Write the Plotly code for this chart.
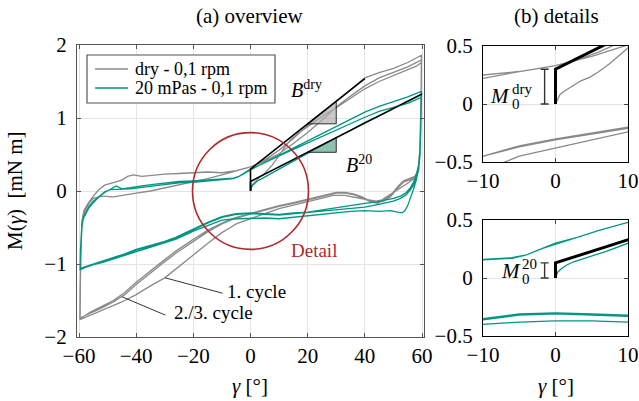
import plotly.graph_objects as go

# ---------------- data ----------------
# dry - 0,1 rpm : branches in the order they were measured
DRY_INIT_G = [0, 0.3, 0.6, 1.2, 2.4, 3.5, 4.7, 6, 7.5, 9, 10.5, 12, 14, 17, 20, 25, 30, 35, 40, 45, 50, 55, 58, 59.5]
DRY_INIT_M = [0, 0.04, 0.08, 0.11, 0.16, 0.2, 0.23, 0.28, 0.35, 0.43, 0.52, 0.6, 0.7, 0.8, 0.88, 1.02, 1.14, 1.27, 1.4, 1.5, 1.58, 1.66, 1.71, 1.75]
DRY_L1_G = [59.8, 59.7, 59.5, 59.2, 58.7, 57.5, 55.5, 53, 50.5, 48, 46, 44, 41, 37, 33, 29, 25, 20, 15, 10, 5, 0, -5, -7, -10, -15, -20, -25, -30, -35, -40, -45, -50, -55, -59.5]
DRY_L1_M = [1.75, 1.3, 0.9, 0.55, 0.3, 0.18, 0.12, 0.06, 0.0, -0.07, -0.12, -0.14, -0.12, -0.09, -0.06, -0.06, -0.1, -0.15, -0.2, -0.24, -0.31, -0.38, -0.45, -0.5, -0.57, -0.72, -0.88, -1.04, -1.19, -1.3, -1.42, -1.52, -1.6, -1.68, -1.76]
DRY_U2_G = [-59.6, -59.5, -59.3, -59, -58.3, -57, -55, -53, -51, -48, -45, -43, -41, -38, -34, -30, -25, -20, -15, -10, -5, -2, 0, 3, 6, 10, 15, 20, 25, 30, 35, 40, 45, 50, 55, 59.5]
DRY_U2_M = [-1.76, -1.2, -0.7, -0.42, -0.27, -0.18, -0.07, 0.02, 0.08, 0.12, 0.15, 0.2, 0.22, 0.2, 0.22, 0.23, 0.24, 0.25, 0.26, 0.25, 0.28, 0.31, 0.33, 0.38, 0.45, 0.56, 0.72, 0.9, 1.06, 1.22, 1.38, 1.55, 1.62, 1.68, 1.76, 1.86]
DRY_L2_G = [59.8, 59.7, 59.5, 59.2, 58.8, 57.5, 55.5, 53.5, 51.5, 49, 46.5, 44.5, 42, 39, 36, 33, 30, 27, 24, 20, 15, 10, 5, 0, -5, -10, -15, -20, -26, -30, -35, -40, -44, -48, -52, -56, -59.6]
DRY_L2_M = [1.86, 1.4, 0.9, 0.5, 0.3, 0.2, 0.17, 0.14, 0.06, -0.06, -0.13, -0.17, -0.15, -0.09, -0.05, -0.03, -0.03, -0.06, -0.09, -0.12, -0.17, -0.21, -0.26, -0.31, -0.37, -0.45, -0.56, -0.69, -0.85, -0.97, -1.12, -1.28, -1.42, -1.52, -1.6, -1.67, -1.74]
DRY_U3_G = [-59.7, -59.6, -59.4, -59, -58, -56.5, -55, -52, -48, -44, -40, -35, -30, -25, -20, -15, -10, -5, 0, 5, 10, 15, 20, 25, 30, 35, 40, 45, 50, 55, 59.5]
DRY_U3_M = [-1.74, -1.3, -0.8, -0.45, -0.28, -0.17, -0.1, -0.07, -0.08, -0.05, -0.03, 0.0, 0.04, 0.08, 0.12, 0.17, 0.22, 0.28, 0.33, 0.41, 0.51, 0.65, 0.8, 0.97, 1.15, 1.3, 1.44, 1.55, 1.63, 1.7, 1.79]
DRY_L3_G = [59.8, 59.7, 59.5, 59.2, 58.8, 57.5, 55.5, 53.5, 51.5, 49, 46.5, 44.5, 42, 39, 36, 33, 30, 27, 24, 20, 15, 10, 5, 0, -5, -10, -15, -20, -26, -30, -35, -40, -44, -48, -52, -56, -59.6]
DRY_L3_M = [1.79, 1.35, 0.85, 0.48, 0.28, 0.19, 0.15, 0.12, 0.04, -0.08, -0.14, -0.16, -0.14, -0.08, -0.04, -0.02, -0.02, -0.05, -0.08, -0.11, -0.16, -0.2, -0.25, -0.3, -0.36, -0.44, -0.54, -0.66, -0.82, -0.94, -1.09, -1.25, -1.39, -1.5, -1.58, -1.66, -1.75]

# 20 mPas - 0,1 rpm
W_INIT_G = [0, 0.3, 0.8, 1.5, 2.5, 3.5, 5, 7, 10, 15, 20, 25, 30, 35, 40, 45, 50, 55, 59.5]
W_INIT_M = [0, 0.05, 0.08, 0.11, 0.14, 0.16, 0.19, 0.23, 0.3, 0.41, 0.52, 0.62, 0.73, 0.83, 0.94, 1.03, 1.13, 1.22, 1.32]
W_L1_G = [59.8, 59.6, 59.3, 58.8, 58, 57, 56, 55, 54, 53, 51.5, 49, 45, 40, 35, 30, 25, 20, 15, 10, 5, 0, -5, -10, -15, -20, -26, -30, -35, -40, -44, -48, -52, -56, -59.6]
W_L1_M = [1.32, 0.9, 0.5, 0.3, 0.15, 0.02, -0.1, -0.2, -0.27, -0.3, -0.29, -0.27, -0.28, -0.27, -0.28, -0.3, -0.32, -0.34, -0.36, -0.38, -0.37, -0.37, -0.38, -0.4, -0.47, -0.55, -0.66, -0.71, -0.77, -0.83, -0.89, -0.94, -0.98, -1.02, -1.08]
W_U2_G = [-59.6, -59.5, -59.3, -59, -58.5, -57.5, -56.5, -55, -53, -51, -49, -47, -45, -42, -38, -34, -30, -25, -20, -15, -10, -6, -4, -2, 0, 3, 6, 10, 15, 20, 25, 30, 35, 40, 45, 50, 55, 59.5]
W_U2_M = [-1.08, -0.85, -0.65, -0.5, -0.38, -0.3, -0.23, -0.16, -0.08, -0.02, 0.03, 0.07, 0.03, 0.05, 0.07, 0.09, 0.11, 0.13, 0.14, 0.15, 0.16, 0.175, 0.2, 0.25, 0.29, 0.35, 0.41, 0.48, 0.58, 0.68, 0.79, 0.89, 0.99, 1.08, 1.16, 1.22, 1.29, 1.36]
W_L2_G = [59.8, 59.6, 59.3, 58.8, 58, 57, 56, 54.5, 52.5, 50, 47, 44, 40, 35, 30, 25, 20, 15, 10, 5, 0, -5, -10, -15, -20, -26, -30, -35, -40, -44, -48, -52, -56, -59.6]
W_L2_M = [1.36, 0.9, 0.55, 0.35, 0.22, 0.12, 0.05, -0.02, -0.07, -0.1, -0.13, -0.15, -0.17, -0.2, -0.23, -0.26, -0.29, -0.3, -0.32, -0.31, -0.3, -0.31, -0.35, -0.43, -0.52, -0.63, -0.69, -0.75, -0.8, -0.86, -0.91, -0.96, -1.01, -1.06]
W_U3_G = [-59.6, -59.5, -59.3, -59, -58.5, -57.5, -56.5, -55, -53, -51, -49, -46, -42, -38, -34, -30, -25, -20, -15, -10, -6, -4, -2, 0, 3, 6, 10, 15, 20, 25, 30, 35, 40, 45, 50, 55, 59.5]
W_U3_M = [-1.06, -0.82, -0.62, -0.47, -0.36, -0.28, -0.21, -0.14, -0.07, -0.01, 0.02, 0.02, 0.03, 0.05, 0.07, 0.09, 0.11, 0.12, 0.14, 0.16, 0.17, 0.2, 0.25, 0.3, 0.35, 0.41, 0.48, 0.57, 0.66, 0.75, 0.84, 0.93, 1.01, 1.09, 1.15, 1.2, 1.28]
W_L3_G = [59.8, 59.6, 59.3, 58.8, 58, 57, 56, 54.5, 52.5, 50, 47, 44, 40, 35, 30, 25, 20, 15, 10, 5, 0, -5, -10, -15, -20, -26, -30, -35, -40, -44, -48, -52, -56, -59.6]
W_L3_M = [1.28, 0.85, 0.5, 0.3, 0.18, 0.08, 0.02, -0.05, -0.1, -0.14, -0.17, -0.19, -0.22, -0.24, -0.26, -0.28, -0.3, -0.31, -0.33, -0.32, -0.31, -0.32, -0.36, -0.44, -0.53, -0.64, -0.7, -0.76, -0.81, -0.87, -0.92, -0.97, -1.02, -1.07]

# initial slope fits (black) : M0 offset and slope B
M0_DRY, B_DRY, FIT_END_DRY = 0.30, 0.031, 40
M0_20, B_20, FIT_END_20 = 0.13, 0.020, 60
TRI_X = [20, 30]            # slope triangle extent
M0_BAR_X = -1.5             # position of the M0 error-bar marker in details
DETAIL_CIRCLE = dict(cx=0, cy=0, rx=20.3, ry=0.8)

X_TICKS_MAIN = [-60, -40, -20, 0, 20, 40, 60]
Y_TICKS_MAIN = [-2, -1, 0, 1, 2]
X_TICKS_DET = [-10, 0, 10]
Y_TICKS_DET = [-0.5, 0, 0.5]

# ---------------- styling ----------------
FONT = "Liberation Serif"
GRAY = "#8a8a8a"
TEAL = "#009682"
RED = "#b02a2a"
FS = 19

def lab(v):
    s = f"{v:g}"
    return s.replace("-", "\u2212")

def cat(*arrs):
    out = []
    for a in arrs:
        out += list(a)
    return out

dry_g = cat(DRY_INIT_G, DRY_L1_G, DRY_U2_G, DRY_L2_G, DRY_U3_G, DRY_L3_G)
dry_m = cat(DRY_INIT_M, DRY_L1_M, DRY_U2_M, DRY_L2_M, DRY_U3_M, DRY_L3_M)
w_g = cat(W_INIT_G, W_L1_G, W_U2_G, W_L2_G, W_U3_G, W_L3_G)
w_m = cat(W_INIT_M, W_L1_M, W_U2_M, W_L2_M, W_U3_M, W_L3_M)

fig = go.Figure()

# ----- main panel -----
fig.add_trace(go.Scatter(x=dry_g, y=dry_m, mode="lines", line=dict(color=GRAY, width=1.3),
                         name="dry - 0,1 rpm", xaxis="x", yaxis="y", showlegend=False))
fig.add_trace(go.Scatter(x=w_g, y=w_m, mode="lines", line=dict(color=TEAL, width=1.3),
                         name="20 mPas - 0,1 rpm", xaxis="x", yaxis="y", showlegend=False))

# slope triangles
def tri(m0, b, fill):
    x0, x1 = TRI_X
    return go.Scatter(x=[x0, x1, x1, x0], y=[m0 + b * x0, m0 + b * x1, m0 + b * x0, m0 + b * x0],
                      mode="lines", fill="toself", fillcolor=fill,
                      line=dict(color="black", width=0.8), xaxis="x", yaxis="y",
                      showlegend=False, hoverinfo="skip")

fig.add_trace(tri(M0_DRY, B_DRY, "rgba(175,175,175,0.7)"))
fig.add_trace(tri(M0_20, B_20, "rgba(80,160,140,0.65)"))

def fit_line(m0, b, xend, ax, w):
    return go.Scatter(x=[0, 0, xend], y=[0, m0, m0 + b * xend], mode="lines",
                      line=dict(color="black", width=w), xaxis=ax[0], yaxis=ax[1],
                      showlegend=False, hoverinfo="skip")

fig.add_trace(fit_line(M0_DRY, B_DRY, FIT_END_DRY, ("x", "y"), 1.6))
fig.add_trace(fit_line(M0_20, B_20, FIT_END_20, ("x", "y"), 1.6))

# ----- detail panels -----
fig.add_trace(go.Scatter(x=dry_g, y=dry_m, mode="lines", line=dict(color=GRAY, width=1.3),
                         xaxis="x2", yaxis="y2", showlegend=False))
fig.add_trace(fit_line(M0_DRY, B_DRY, FIT_END_DRY, ("x2", "y2"), 3))
fig.add_trace(go.Scatter(x=w_g, y=w_m, mode="lines", line=dict(color=TEAL, width=1.3),
                         xaxis="x3", yaxis="y3", showlegend=False))
fig.add_trace(fit_line(M0_20, B_20, FIT_END_20, ("x3", "y3"), 3))

for m0, ax in [(M0_DRY, ("x2", "y2")), (M0_20, ("x3", "y3"))]:
    fig.add_trace(go.Scatter(x=[M0_BAR_X], y=[m0 / 2], mode="markers",
                             marker=dict(size=1, color="rgba(0,0,0,0)"),
                             error_y=dict(type="data", array=[m0 / 2], color="#333", thickness=1.4, width=4),
                             xaxis=ax[0], yaxis=ax[1], showlegend=False, hoverinfo="skip"))

# ----- axes -----
W, H = 639, 401
def px_x(a, b):
    return [a / W, b / W]
def px_y(top, bottom):
    return [1 - bottom / H, 1 - top / H]

common = dict(showgrid=True, gridcolor="#e4e4e4", gridwidth=1, zeroline=False,
              showline=True, mirror="ticks", ticks="inside", ticklen=4, automargin=False,
              tickfont=dict(family=FONT, size=FS + 2, color="black"))

fig.update_layout(
    template="none",
    xaxis=dict(domain=px_x(77, 424), range=[-60.7, 60.7], anchor="y",
               tickvals=X_TICKS_MAIN, ticktext=[lab(v) for v in X_TICKS_MAIN],
               linecolor="#555", tickcolor="#555", linewidth=1.2, **common),
    yaxis=dict(domain=px_y(45, 337), range=[-2, 2], anchor="x",
               tickvals=Y_TICKS_MAIN, ticktext=[lab(v) for v in Y_TICKS_MAIN],
               linecolor="#555", tickcolor="#555", linewidth=1.2, ticklabelstandoff=5, **common),
    xaxis2=dict(domain=px_x(483, 628), range=[-10, 10], anchor="y2",
                tickvals=X_TICKS_DET, ticktext=[lab(v) for v in X_TICKS_DET],
                linecolor="black", tickcolor="#444", linewidth=1.2, **common),
    yaxis2=dict(domain=px_y(46, 162), range=[-0.5, 0.5], anchor="x2",
                tickvals=Y_TICKS_DET, ticktext=[lab(v) for v in Y_TICKS_DET],
                linecolor="black", tickcolor="#444", linewidth=1.2, ticklabelstandoff=5, **common),
    xaxis3=dict(domain=px_x(483, 628), range=[-10, 10], anchor="y3",
                tickvals=X_TICKS_DET, ticktext=[lab(v) for v in X_TICKS_DET],
                linecolor="black", tickcolor="#444", linewidth=1.2, **common),
    yaxis3=dict(domain=px_y(220, 336), range=[-0.5, 0.5], anchor="x3",
                tickvals=Y_TICKS_DET, ticktext=[lab(v) for v in Y_TICKS_DET],
                linecolor="black", tickcolor="#444", linewidth=1.2, ticklabelstandoff=5, **common),
    width=W, height=H, margin=dict(l=0, r=0, t=0, b=0, autoexpand=False),
    paper_bgcolor="white", plot_bgcolor="white",
    font=dict(family=FONT, size=FS, color="black"),
    showlegend=False,
)

shapes = []
anns = []

def ann(text, x, y, xref="paper", yref="paper", size=FS, color="black", xanchor="center", **kw):
    if xref == "paper":
        x = x / W
    if yref == "paper":
        y = 1 - y / H
    anns.append(dict(text=text, x=x, y=y, xref=xref, yref=yref, xanchor=xanchor, yanchor="middle",
                     showarrow=False, font=dict(family=FONT, size=size, color=color), **kw))

# detail circle
c = DETAIL_CIRCLE
shapes.append(dict(type="circle", xref="x", yref="y", x0=c["cx"] - c["rx"], x1=c["cx"] + c["rx"],
                   y0=c["cy"] - c["ry"], y1=c["cy"] + c["ry"], line=dict(color=RED, width=1.6), layer="above"))

# legend box (manual)
lx0, ly0, lx1, ly1 = 87, 55, 275, 103
shapes.append(dict(type="rect", xref="paper", yref="paper", x0=lx0 / W, x1=lx1 / W,
                   y0=1 - ly1 / H, y1=1 - ly0 / H, line=dict(color="#555", width=1.2),
                   fillcolor="white", layer="above"))
for yy, col, txt in [(69, GRAY, "dry - 0,1 rpm"), (88, TEAL, "20 mPas - 0,1 rpm")]:
    shapes.append(dict(type="line", xref="paper", yref="paper", x0=95 / W, x1=128 / W,
                       y0=1 - yy / H, y1=1 - yy / H, line=dict(color=col, width=1.5), layer="above"))
    ann(txt, 133, yy, size=FS - 1, xanchor="left")

# pointer lines for cycles
shapes.append(dict(type="line", xref="x", yref="y", x0=-29.8, y0=-1.19, x1=-9.8, y1=-1.40,
                   line=dict(color="black", width=0.8)))
shapes.append(dict(type="line", xref="x", yref="y", x0=-44.9, y0=-1.45, x1=-29.8, y1=-1.70,
                   line=dict(color="black", width=0.8)))
ann("1. cycle", -8.8, -1.38, xref="x", yref="y", xanchor="left")
ann("2./3. cycle", -27.4, -1.67, xref="x", yref="y", xanchor="left")
ann("Detail", 22.1, -0.81, xref="x", yref="y", color=RED)
ann("<i>B</i><sup>dry</sup>", 19.6, 1.40, xref="x", yref="y", size=FS + 1)
ann("<i>B</i><sup>20</sup>", 38.0, 0.37, xref="x", yref="y", size=FS + 1)

# M0 labels with stacked sub/superscripts
def m0_label(xr, yr, xm, ym, sup, xs, ys, xb, yb):
    ann("<i>M</i>", xm, ym, xref=xr, yref=yr, size=FS + 2)
    ann(sup, xs, ys, xref=xr, yref=yr, size=FS - 4, xanchor="left")
    ann("0", xb, yb, xref=xr, yref=yr, size=FS - 4, xanchor="left")

m0_label("x2", "y2", -7.6, 0.07, "dry", -6.3, 0.13, -6.3, 0.0)
m0_label("x3", "y3", -6.2, 0.06, "20", -4.9, 0.12, -4.9, -0.01)

# titles & axis labels
ann("(a) overview", 250, 16, size=FS + 2)
ann("(b) details", 556, 16, size=FS + 2)
ann("<i>\u03b3</i> [\u00b0]", 250, 386, size=FS + 2)
ann("<i>\u03b3</i> [\u00b0]", 556, 386, size=FS + 2)
ann("M(<i>\u03b3</i>)  [mN m]", 15, 191, size=FS + 2, textangle=-90)

fig.update_layout(shapes=shapes, annotations=anns)
fig.write_html("out.html")
